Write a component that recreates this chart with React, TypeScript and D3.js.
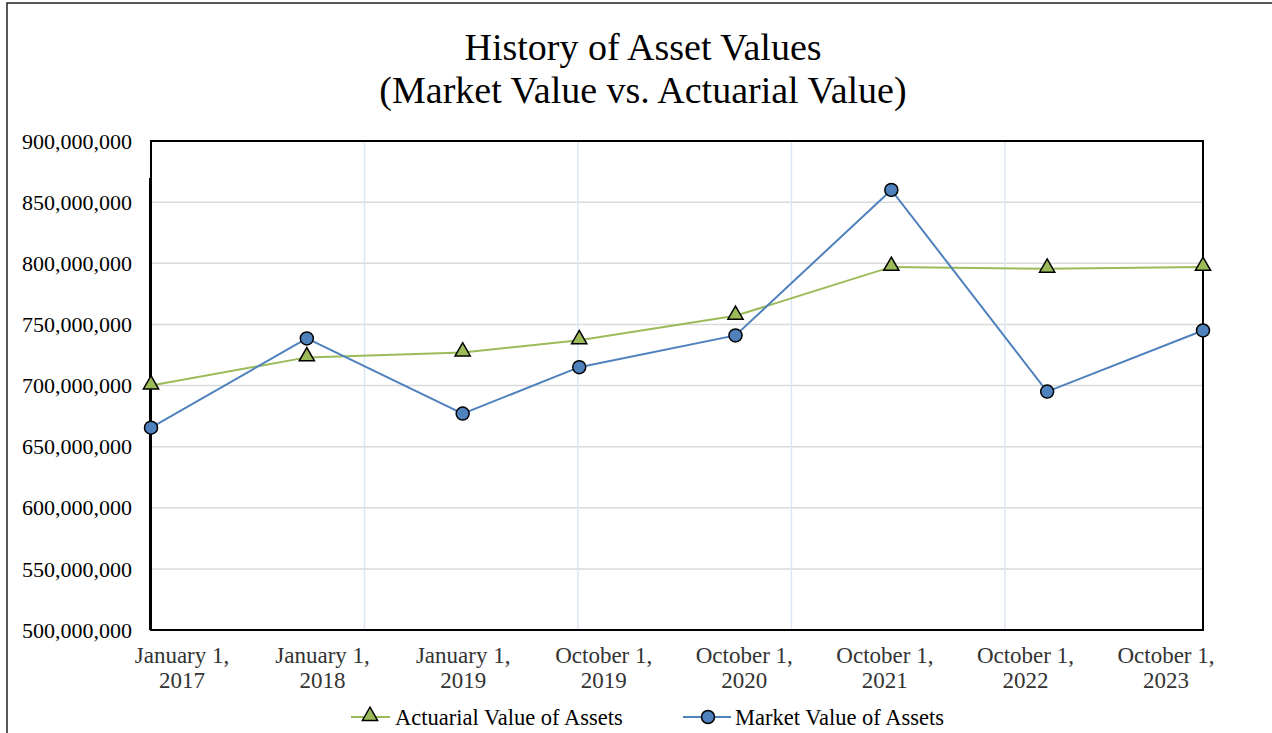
import React, { useEffect, useRef } from 'react';
import * as d3 from 'd3';

// valuation dates and values
const dates = ['2017-01-01', '2018-01-01', '2019-01-01', '2019-10-01', '2020-10-01', '2021-10-01', '2022-10-01', '2023-10-01'];
const xLabels = [
  ['January 1,', '2017'],
  ['January 1,', '2018'],
  ['January 1,', '2019'],
  ['October 1,', '2019'],
  ['October 1,', '2020'],
  ['October 1,', '2021'],
  ['October 1,', '2022'],
  ['October 1,', '2023'],
];
const actuarial = [700e6, 723e6, 727e6, 737e6, 757e6, 797e6, 795.5e6, 797e6];
const market = [665.5e6, 738.5e6, 677e6, 715e6, 741e6, 860e6, 695e6, 745e6];
const yTicks = [500e6, 550e6, 600e6, 650e6, 700e6, 750e6, 800e6, 850e6, 900e6];
// Excel-style date axis: gridlines every 500 days from the first date
const gridDays = [500, 1000, 1500, 2000];

const GREEN = '#9bbb59';
const BLUE = '#4f81bd';
const FONT = '"Liberation Serif", "Times New Roman", serif';

const App = () => {
  const svgRef = useRef<SVGSVGElement>(null);

  useEffect(() => {
    const w = 1272;
    const h = 733;
    const svg = d3.select(svgRef.current).attr('width', w).attr('height', h);
    svg.selectAll('*').remove();

    const left = 151, right = 1203, top = 141, bottom = 630;
    const parse = d3.timeParse('%Y-%m-%d');
    const pts = dates.map((d) => parse(d) as Date);

    const x = d3.scaleTime().domain([pts[0], pts[pts.length - 1]]).range([left, right]);
    const y = d3.scaleLinear().domain([500e6, 900e6]).range([bottom, top]);
    // the category labels sit evenly spaced, not under the dates
    const xl = d3.scalePoint<number>().domain(d3.range(xLabels.length)).range([182, 1166]);

    svg.append('rect').attr('width', w).attr('height', h).attr('fill', '#fff');
    svg.append('rect')
      .attr('x', 7).attr('y', 3).attr('width', w + 10).attr('height', h + 10)
      .attr('fill', 'none').attr('stroke', '#222').attr('stroke-width', 1.5);

    // title
    const title = svg.append('text')
      .attr('text-anchor', 'middle').attr('font-family', FONT).attr('font-size', 38).attr('fill', '#000');
    title.append('tspan').attr('x', 643).attr('y', 60).text('History of Asset Values');
    title.append('tspan').attr('x', 643).attr('y', 103).text('(Market Value vs. Actuarial Value)');

    // gridlines
    svg.append('g').selectAll('line').data(yTicks.slice(1, -1)).join('line')
      .attr('x1', left).attr('x2', right)
      .attr('y1', (d) => y(d)).attr('y2', (d) => y(d))
      .attr('stroke', '#d9d9d9').attr('stroke-width', 1.5);
    svg.append('g').selectAll('line').data(gridDays).join('line')
      .attr('x1', (d) => x(d3.timeDay.offset(pts[0], d)))
      .attr('x2', (d) => x(d3.timeDay.offset(pts[0], d)))
      .attr('y1', top).attr('y2', bottom)
      .attr('stroke', '#dce6f2').attr('stroke-width', 1.5);

    // plot border + the slightly offset value axis line
    svg.append('rect')
      .attr('x', left).attr('y', top).attr('width', right - left).attr('height', bottom - top)
      .attr('fill', 'none').attr('stroke', '#000').attr('stroke-width', 2);
    svg.append('line')
      .attr('x1', left - 1).attr('x2', left - 1).attr('y1', 178).attr('y2', bottom)
      .attr('stroke', '#000').attr('stroke-width', 2);

    // y axis labels
    svg.append('g').selectAll('text').data(yTicks).join('text')
      .attr('x', 132).attr('y', (d) => y(d)).attr('dy', '0.35em')
      .attr('text-anchor', 'end').attr('font-family', FONT).attr('font-size', 22).attr('fill', '#000')
      .text((d) => d3.format(',')(d));

    // x labels
    const xg = svg.append('g').attr('font-family', FONT).attr('font-size', 23).attr('fill', '#333')
      .attr('text-anchor', 'middle');
    xLabels.forEach((lab, i) => {
      const t = xg.append('text');
      t.append('tspan').attr('x', xl(i)!).attr('y', 663).text(lab[0]);
      t.append('tspan').attr('x', xl(i)!).attr('y', 688).text(lab[1]);
    });

    const line = d3.line<number>().x((_, i) => x(pts[i])).y((d) => y(d));
    const tri = d3.symbol().type(d3.symbolTriangle).size(100);

    svg.append('path').attr('d', line(actuarial)).attr('fill', 'none').attr('stroke', GREEN).attr('stroke-width', 2);
    svg.append('path').attr('d', line(market)).attr('fill', 'none').attr('stroke', BLUE).attr('stroke-width', 2);

    svg.append('g').selectAll('path').data(actuarial).join('path')
      .attr('d', tri)
      .attr('transform', (d, i) => `translate(${x(pts[i])},${y(d) - 1})`)
      .attr('fill', GREEN).attr('stroke', '#000').attr('stroke-width', 1.5);
    svg.append('g').selectAll('circle').data(market).join('circle')
      .attr('cx', (_, i) => x(pts[i])).attr('cy', (d) => y(d)).attr('r', 6.5)
      .attr('fill', BLUE).attr('stroke', '#000').attr('stroke-width', 1.5);

    // legend
    const lg = svg.append('g').attr('font-family', FONT).attr('font-size', 22.5).attr('fill', '#000');
    const ly = 717;
    lg.append('line').attr('x1', 351).attr('x2', 390).attr('y1', ly).attr('y2', ly).attr('stroke', GREEN).attr('stroke-width', 2);
    lg.append('path').attr('d', tri).attr('transform', `translate(370,${ly - 1})`)
      .attr('fill', GREEN).attr('stroke', '#000').attr('stroke-width', 1.5);
    lg.append('text').attr('x', 395).attr('y', ly).attr('dy', '0.35em').text('Actuarial Value of Assets');
    lg.append('line').attr('x1', 683).attr('x2', 731).attr('y1', ly).attr('y2', ly).attr('stroke', BLUE).attr('stroke-width', 2);
    lg.append('circle').attr('cx', 708).attr('cy', ly).attr('r', 6.5)
      .attr('fill', BLUE).attr('stroke', '#000').attr('stroke-width', 1.5);
    lg.append('text').attr('x', 735).attr('y', ly).attr('dy', '0.35em').text('Market Value of Assets');
  }, []);

  return (
    <div>
      <svg ref={svgRef} style={{ position: 'absolute', left: 0, top: 0, display: 'block' }}></svg>
    </div>
  );
};

export default App;
